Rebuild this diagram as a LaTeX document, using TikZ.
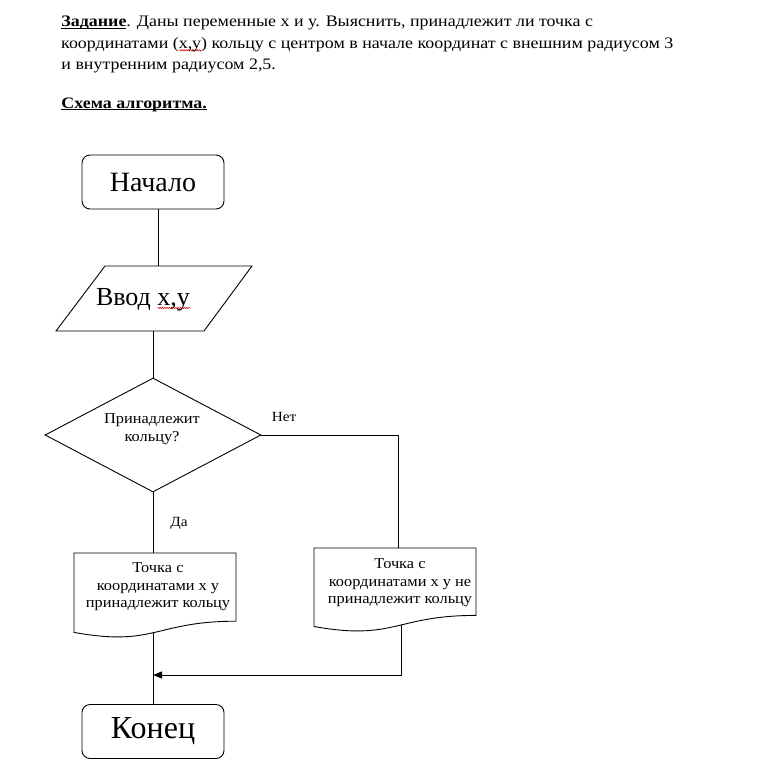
\documentclass[tikz,border=0pt]{standalone}
\usepackage{fontspec}
\setmainfont{Liberation Serif}
\newfontfamily\hdrfont[FakeStretch=1.12]{Liberation Serif}
\newfontfamily\smallfont[FakeStretch=1.09]{Liberation Serif}
\usetikzlibrary{shapes.geometric,arrows.meta,decorations.pathmorphing}
\newlength\sqw
\newcommand\squig[1]{\setbox0\hbox{#1}\setlength\sqw{\wd0}\rlap{\smash{\raisebox{-3.2pt}{\tikz[x=1pt,y=1pt]\draw[red!85!black,line width=0.5pt,decorate,decoration={zigzag,segment length=2.2pt,amplitude=0.7pt}] (0,0) -- (\sqw,0);}}}#1}
\newcommand\myul[1]{\setbox0\hbox{#1}\setlength\sqw{\wd0}\rlap{\rule[-2.3pt]{\sqw}{0.9pt}}#1}
\begin{document}
\begin{tikzpicture}[x=1pt,y=-1pt,
  line width=0.9pt,
  termbox/.style={draw,rounded corners=8pt,minimum width=142pt,minimum height=54pt,inner sep=0pt},
  hdr/.style={anchor=base west,inner sep=0pt,font=\hdrfont\fontsize{16}{20}\selectfont},
  small/.style={inner sep=0pt,align=center,font=\smallfont\fontsize{15}{17.5}\selectfont},
  lbl/.style={inner sep=0pt,font=\smallfont\fontsize{14}{16}\selectfont}]
\useasboundingbox (0,0) rectangle (761,779);
% header
\node[hdr] (h1) at (61,27) {\myul{\textbf{Задание}}. Даны переменные х и у. Выяснить, принадлежит ли точка с};
\node[hdr] (h2) at (61,48) {координатами (\squig{х,у}) кольцу с центром в начале координат с внешним радиусом 3};
\node[hdr] (h3) at (61,69) {и внутренним радиусом 2,5.};
\node[hdr] (h4) at (61,108) {\myul{\textbf{Схема алгоритма.}}};
% start
\node[termbox,font=\fontsize{28}{30}\selectfont] (start) at (153,182) {Начало};
% input parallelogram
\coordinate (iotl) at (105,266);
\coordinate (iotr) at (252,266);
\coordinate (iobr) at (204,331);
\coordinate (iobl) at (56,331);
\draw (iotl) -- (iotr) -- (iobr) -- (iobl) -- cycle;
\node[inner sep=0pt,font=\fontsize{26}{28}\selectfont] (io) at (143,300) {Ввод \squig{х,у}};
\coordinate (ioin) at (158,266);
\coordinate (ioout) at (153,331);
% decision
\node[draw,diamond,minimum width=216pt,minimum height=114pt,inner sep=0pt] (dec) at (153,435) {};
\node[small] (dect) at (152,429) {Принадлежит\\кольцу?};
\node[lbl] (no) at (284,417) {Нет};
\node[lbl] (yes) at (179,523) {Да};
% left document
\coordinate (d1tl) at (74,553);
\coordinate (d1tr) at (236,553);
\coordinate (d1r) at (236,621.2);
\coordinate (d1l) at (74,632.4);
\draw (d1tl) -- (d1tr) -- (d1r) .. controls (155,621.2) and (155,647.1) .. (d1l) -- cycle;
\node[small] (d1) at (158,587) {Точка с\\координатами х у\\принадлежит кольцу};
\coordinate (d1in) at (153,553);
\coordinate (d1out) at (153,632.4);
% right document
\coordinate (d2tl) at (314,548);
\coordinate (d2tr) at (476,548);
\coordinate (d2r) at (476,615.4);
\coordinate (d2l) at (314,626.5);
\draw (d2tl) -- (d2tr) -- (d2r) .. controls (395,615.4) and (395,641) .. (d2l) -- cycle;
\node[small] (d2) at (400,583) {Точка с\\координатами х у не\\принадлежит кольцу};
\coordinate (d2in) at (398,548);
\coordinate (d2out) at (401,625);
\coordinate (join) at (153,675);
% end
\node[termbox,font=\fontsize{32}{34}\selectfont] (stop) at (153,731.5) {Конец};
% connectors
\draw ([xshift=5pt]start.south) -- (ioin);
\draw (ioout) -- (dec.north);
\draw (dec.east) -| (d2in);
\draw (dec.south) -- (d1in);
\draw (d1out) -- (stop.north);
\draw[-{Triangle[length=9pt,width=7pt]}] (d2out) |- (join);
\end{tikzpicture}
\end{document}
